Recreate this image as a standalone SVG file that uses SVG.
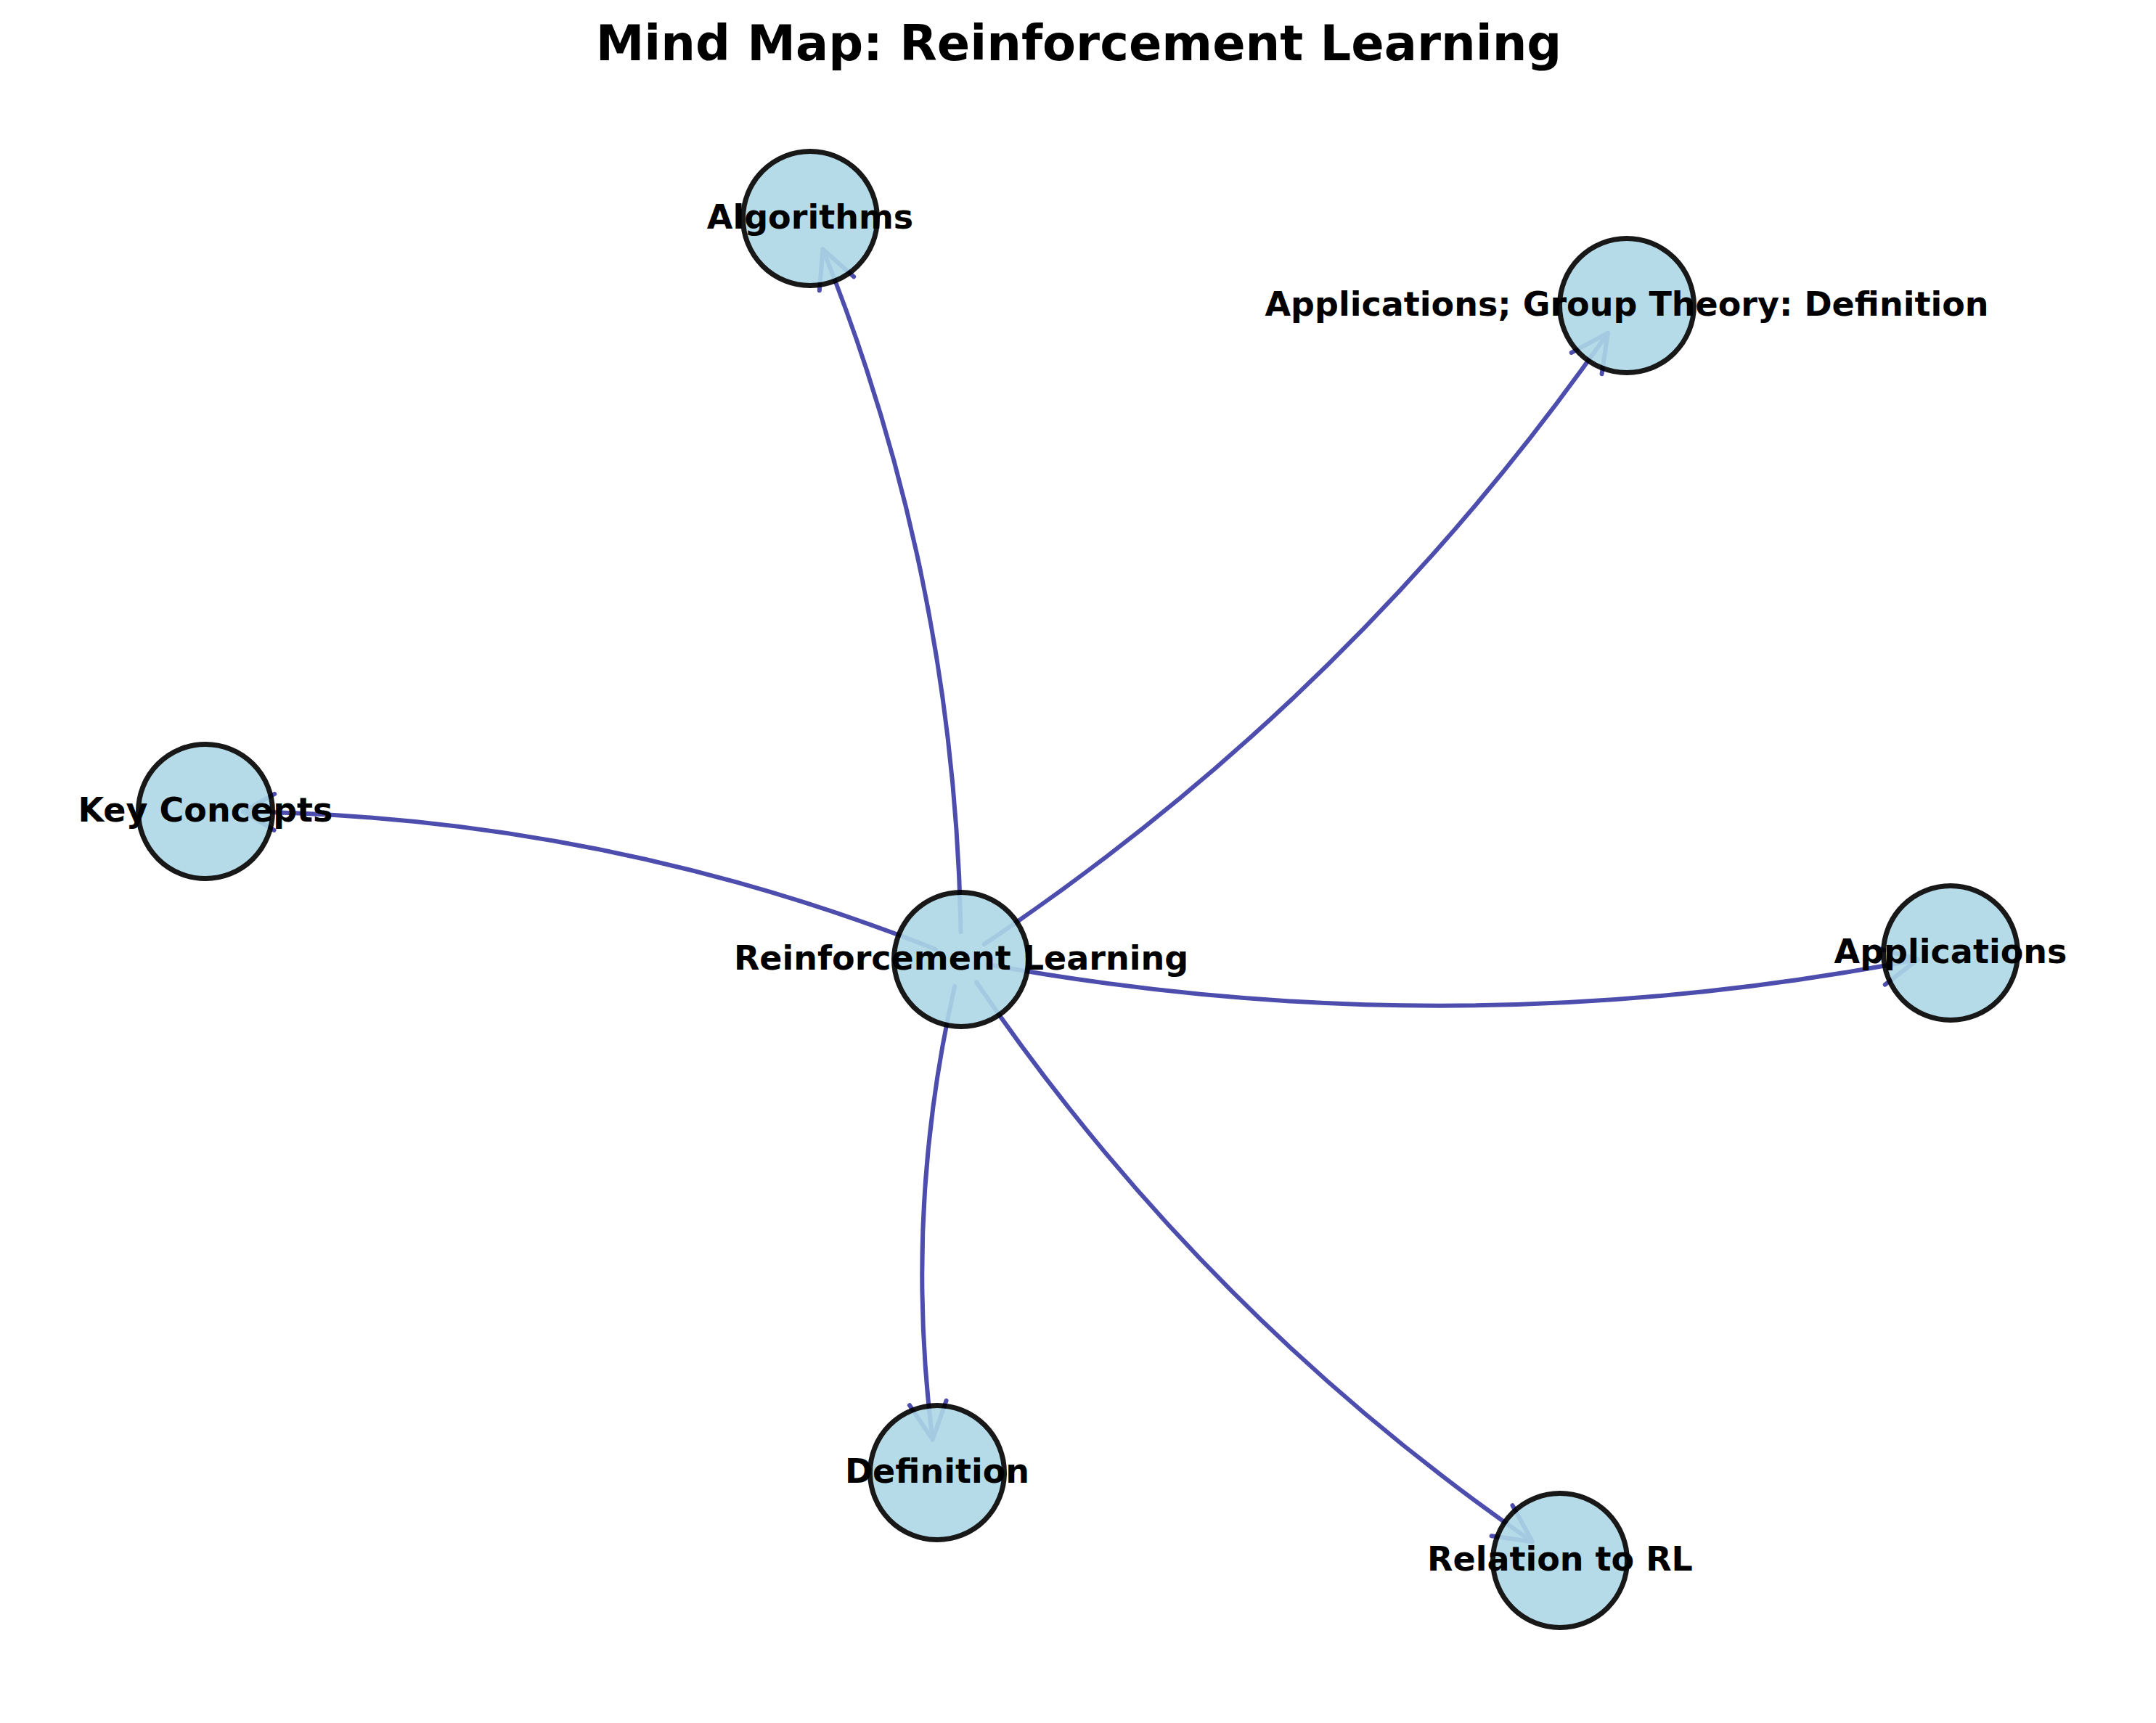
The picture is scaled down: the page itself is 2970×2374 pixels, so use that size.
<svg xmlns="http://www.w3.org/2000/svg" width="2970" height="2374" viewBox="0 0 2970 2374">
<style>
.edge{fill:none;stroke:#4d4dae;stroke-width:6;stroke-linecap:round;stroke-linejoin:round}
.node{fill:#add8e6;stroke:#000;stroke-width:7;opacity:0.9}
.lbl{font-family:"DejaVu Sans","Liberation Sans",sans-serif;font-weight:bold;font-size:46px;text-anchor:middle;fill:#000}
.title{font-family:"DejaVu Sans","Liberation Sans",sans-serif;font-weight:bold;font-size:67px;text-anchor:middle;fill:#000}
</style>
<defs>
<marker id="ah" markerUnits="userSpaceOnUse" viewBox="-60 -35 70 70" markerWidth="70" markerHeight="70" refX="0" refY="0" orient="auto">
<path d="M-51,-25.5 L0,0 L-51,25.5" fill="none" stroke="#4d4dae" stroke-width="6" stroke-linecap="round" stroke-linejoin="round"/>
</marker>
<marker id="ah2" markerUnits="userSpaceOnUse" viewBox="-60 -35 70 70" markerWidth="70" markerHeight="70" refX="0" refY="0" orient="auto">
<path d="M-43,-25 L0,0 L-43,25" fill="none" stroke="#4d4dae" stroke-width="6" stroke-linecap="round" stroke-linejoin="round"/>
</marker>
</defs>
<rect width="2970" height="2374" fill="#fff"/>
<text class="title" x="1486" y="83">Mind Map: Reinforcement Learning</text>
<g id="edges">
<path class="edge" marker-end="url(#ah)" d="M1323.6,1284.1 Q1315.1,796.1 1133.5,343.5"/>
<path class="edge" marker-end="url(#ah)" d="M1355.7,1301.0 Q1864.2,960.3 2214.9,458.8"/>
<path class="edge" marker-end="url(#ah2)" d="M1288.8,1307.8 Q829.0,1125.5 334.9,1118.3"/>
<path class="edge" marker-end="url(#ah)" d="M1361.3,1329.0 Q2002.4,1445.8 2642.0,1322.0"/>
<path class="edge" marker-end="url(#ah)" d="M1315.2,1358.9 Q1244.8,1668.7 1284.7,1983.6"/>
<path class="edge" marker-end="url(#ah)" d="M1345.2,1353.5 Q1656.6,1810.1 2111.0,2124.2"/>
</g>
<g id="node-rl"><circle class="node" cx="1324" cy="1322" r="92.5"/></g>
<g id="node-algorithms"><circle class="node" cx="1116" cy="301" r="92.5"/></g>
<g id="node-appgroup"><circle class="node" cx="2241" cy="421" r="92.5"/></g>
<g id="node-keyconcepts"><circle class="node" cx="283" cy="1118" r="92.5"/></g>
<g id="node-applications"><circle class="node" cx="2687" cy="1313" r="92.5"/></g>
<g id="node-definition"><circle class="node" cx="1291" cy="2029" r="92.5"/></g>
<g id="node-relation"><circle class="node" cx="2149" cy="2150" r="92.5"/></g>
<g id="labels">
<text class="lbl" x="1324" y="1335.5">Reinforcement Learning</text>
<text class="lbl" x="1116" y="314.5">Algorithms</text>
<text class="lbl" x="2241" y="434.5">Applications; Group Theory: Definition</text>
<text class="lbl" x="283" y="1131.5">Key Concepts</text>
<text class="lbl" x="2687" y="1326.5">Applications</text>
<text class="lbl" x="1291" y="2042.5">Definition</text>
<text class="lbl" x="2149" y="2163.5">Relation to RL</text>
</g>
</svg>
